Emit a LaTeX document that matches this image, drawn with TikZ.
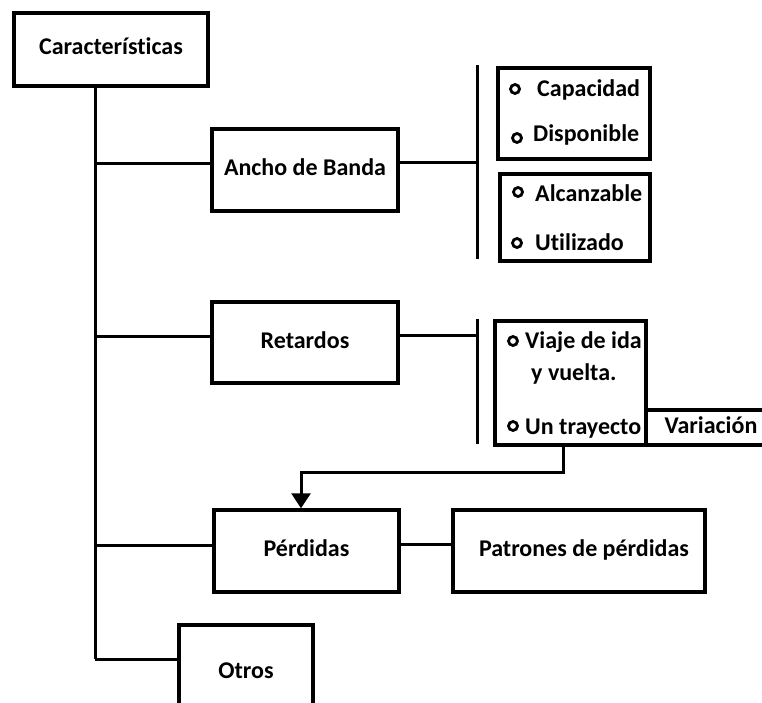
\documentclass[tikz,border=0pt]{standalone}
\usepackage{fontspec}
\setmainfont{Carlito}[Ligatures=NoCommon]
\usetikzlibrary{arrows.meta}
\begin{document}
\begin{tikzpicture}[x=1pt, y=-1pt, font=\fontsize{24}{28}\selectfont\bfseries]
\tikzstyle{caja} = [draw, line width=3.5pt, inner sep=0pt, text height=15pt, text depth=4pt]
\tikzstyle{linea} = [draw, line width=3pt]
\tikzstyle{txt} = [anchor=base west, inner sep=0pt]
\tikzstyle{bola} = [draw, line width=2.8pt]
  \useasboundingbox (0,0) rectangle (762,703);
  \node[caja, minimum width=194pt, minimum height=73pt] (car) at (111,49.5) {Características};
  \node[caja, minimum width=186pt, minimum height=82pt] (ancho) at (305,170) {Ancho de Banda};
  \node[caja, minimum width=186pt, minimum height=81pt] (ret) at (305,342.5) {Retardos};
  \node[caja, minimum width=185pt, minimum height=82pt] (perd) at (306.5,551) {Pérdidas};
  \node[caja, minimum width=252pt, minimum height=82pt] (patr) at (579,551) {\hspace*{10pt}Patrones de pérdidas};
  \node[caja, minimum width=134pt, minimum height=95pt] (otros) at (246,672.5) {Otros};
  \node[caja, minimum width=152pt, minimum height=91pt] (bw1) at (574,113.5) {};
  \node[caja, minimum width=150pt, minimum height=87pt] (bw2) at (575,217.5) {};
  \node[caja, minimum width=151pt, minimum height=124pt] (ida) at (570.5,383) {};
  \node[caja, minimum width=130pt, minimum height=35pt] (var) at (711,427.5) {Variación};
  \foreach \x/\y/\s [count=\i] in {537/97/Capacidad, 533/142/Disponible, 535/202/Alcanzable,
      535/250/Utilizado, 525/348/Viaje de ida, 531/380/y vuelta., 525/434/Un trayecto}{
    \node[txt] (item\i) at (\x,\y) {\s};
  }
  \foreach \x/\y in {515/89, 517/138, 518/192, 517/243, 513/341, 513/426}{
    \draw[bola] (\x,\y) circle (4.5pt);
  }
  \coordinate (t) at (95,86);
  \coordinate (b1) at (477,65);
  \coordinate (b1e) at (477,259);
  \coordinate (b2) at (477,319);
  \coordinate (b2e) at (477,444);
  \draw[linea] (b1) -- (b1e);
  \draw[linea] (b2) -- (b2e);
  \foreach \n in {ancho, ret, perd}{
    \coordinate (\n-l) at ([yshift=6pt]\n.west);
    \draw[linea] (\n-l) -- (\n-l -| t);
  }
  \coordinate (otros-l) at ([yshift=13.5pt]otros.west);
  \draw[linea] (otros-l) -- (otros-l -| t);
  \draw[linea] (car.south -| t) -- (otros-l -| t);
  \foreach \n/\b in {ancho/b1, ret/b2}{
    \coordinate (\n-r) at ([yshift=7pt]\n.east);
    \draw[linea] (\n-r) -- (\n-r -| \b);
  }
  \draw[linea] ([yshift=7pt]perd.east) -- ([yshift=7pt]patr.west);
  \draw[linea, -{Triangle[width=19pt,length=15pt]}] ([xshift=-7.5pt]ida.south) -- ++(0,26) -| ([xshift=-5.5pt]perd.north);
\end{tikzpicture}
\end{document}
